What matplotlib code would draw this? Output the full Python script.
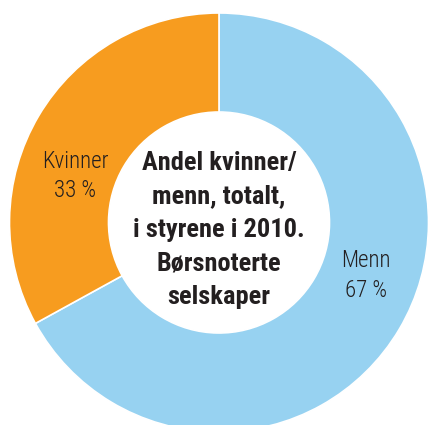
import matplotlib
matplotlib.use("Agg")
import matplotlib.pyplot as plt
from matplotlib import font_manager
from matplotlib.font_manager import FontProperties
import os

labels = ["Menn", "Kvinner"]
values = [67, 33]
colors = ["#97d2f1", "#f79c1f"]
center_title = "Andel kvinner/\nmenn, totalt,\ni styrene i 2010.\nBørsnoterte\nselskaper"

files = {os.path.basename(f.fname).lower(): f.fname for f in font_manager.fontManager.ttflist}

def pick(prefs, fallback):
    for p in prefs:
        for b, full in files.items():
            if b.startswith(p):
                return FontProperties(fname=full)
    return fallback

fp_bold = pick(["robotocondensed-bold", "archivonarrow-bold", "ptsansnarrow-bold",
                "firasanscondensed-bold", "ibmplexsanscondensed-bold",
                "barlowsemicondensed-bold.", "asapcondensed-bold."],
               FontProperties(family="DejaVu Sans", weight="bold"))
fp_reg = pick(["robotocondensed-light.", "robotocondensed-regular", "firasanscondensed-light.",
               "ibmplexsanscondensed-light.", "archivonarrow-regular", "barlowsemicondensed-light.",
               "asapcondensed-light."],
              FontProperties(family="DejaVu Sans"))

W, H = 429, 425
cx, cy, R = 219, 222.5, 209.5
fig = plt.figure(figsize=(W / 100, H / 100), dpi=100)
ax = fig.add_axes([0, 0, 1, 1])

ax.pie(values, colors=colors, startangle=90, counterclock=False, radius=1,
       wedgeprops=dict(width=1 - 110.5 / R, edgecolor="white", linewidth=1.2))
ax.set_xlim(-cx / R, (W - cx) / R)
ax.set_ylim(-(H - cy) / R, cy / R)
ax.set_aspect("equal")
ax.axis("off")

def px(x, y):
    return ((x - cx) / R, (cy - y) / R)

ax.text(*px(219, 230), center_title, ha="center", va="center", fontproperties=fp_bold,
        fontsize=19, color="#231f20", linespacing=1.5)

label_pos = [(366, 275.5), (75, 176)]
for lab, v, (x, y) in zip(labels, values, label_pos):
    ax.text(*px(x, y), f"{lab}\n{v} %", ha="center", va="center", fontproperties=fp_reg,
            fontsize=16.5, color="#231f20", linespacing=1.35)

fig.savefig("out.png", dpi=100)
